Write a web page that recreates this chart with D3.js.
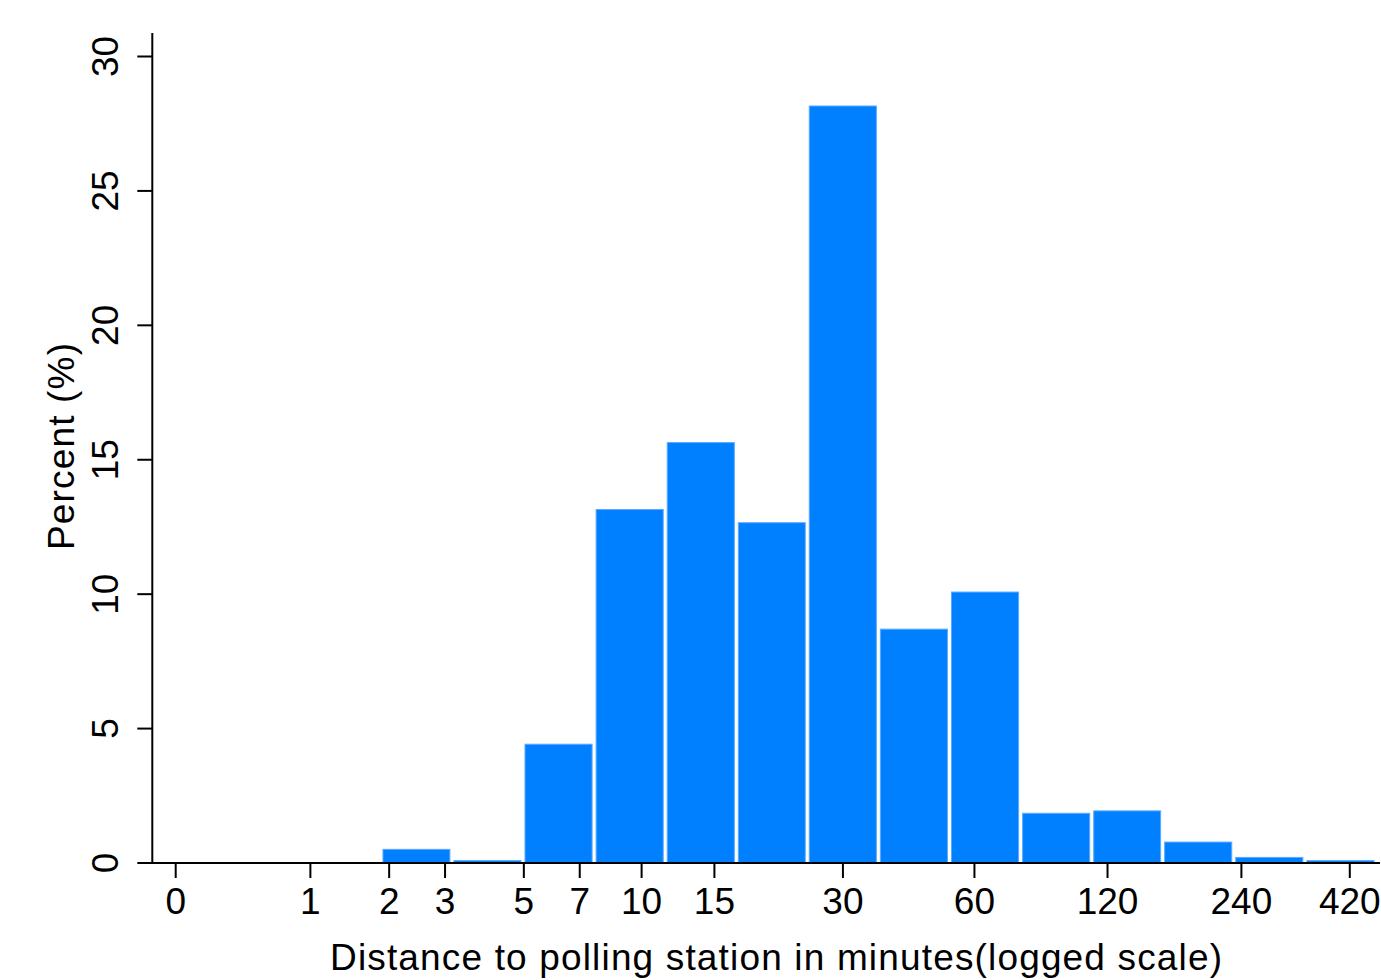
<!DOCTYPE html>
<html>
<head>
<meta charset="utf-8">
<script src="https://cdn.jsdelivr.net/npm/d3@7/dist/d3.min.js"></script>
<style>
  html, body { margin: 0; padding: 0; background: #fff; }
  svg { display: block; }
  text { font-family: "Liberation Sans", Arial, sans-serif; fill: #000; }
</style>
</head>
<body>
<svg id="chart" width="1381" height="980"></svg>
<script>
// Bin edges in ln(minutes + 1) units
const binEdges = [-0.039, 0.327, 0.693, 1.059, 1.424, 1.790, 2.156, 2.522, 2.888,
                  3.253, 3.619, 3.985, 4.351, 4.717, 5.082, 5.448, 5.814, 6.180];
// Percent per bin
const percents = [0, 0, 0, 0.49, 0.07, 4.40, 13.13, 15.62, 12.64, 28.14,
                  8.68, 10.06, 1.83, 1.92, 0.76, 0.19, 0.07];
// X tick labels in minutes
const xTickMinutes = [0, 1, 2, 3, 5, 7, 10, 15, 30, 60, 120, 240, 420];
// Y ticks
const yTicks = [0, 5, 10, 15, 20, 25, 30];

const xTitle = "Distance to polling station in minutes(logged scale)";
const yTitle = "Percent (%)";

const svg = d3.select("#chart");
const fontSize = 37;

const x = d3.scaleLinear()
  .domain([0, Math.log(421)])
  .range([175.2, 175.2 + 194.3 * Math.log(421)]);
const y = d3.scaleLinear().domain([0, 30]).range([862.5, 56]);

const bins = percents.map((v, i) => ({ x0: binEdges[i], x1: binEdges[i + 1], v }))
  .filter(d => d.v > 0);

svg.append("g").selectAll("rect").data(bins).enter().append("rect")
  .attr("x", d => x(d.x0) + 2)
  .attr("width", d => x(d.x1) - x(d.x0) - 4)
  .attr("y", d => y(d.v))
  .attr("height", d => y(0) - y(d.v))
  .attr("fill", "#0080ff")
  .attr("stroke", "#5aaaff")
  .attr("stroke-width", 1);

// X axis
const xAxis = d3.axisBottom(x)
  .tickValues(xTickMinutes.map(m => Math.log(m + 1)))
  .tickFormat((d, i) => xTickMinutes[i])
  .tickSize(15).tickPadding(10).tickSizeOuter(0);
const gx = svg.append("g").attr("transform", "translate(0,863)").call(xAxis);
gx.select(".domain").remove();
gx.append("line").attr("x1", 152.3).attr("x2", 1380).attr("y1", 0).attr("y2", 0)
  .attr("stroke", "#000").attr("stroke-width", 2);
gx.selectAll(".tick line").attr("stroke", "#000").attr("stroke-width", 2);
gx.selectAll(".tick text").attr("font-size", fontSize)
  .attr("font-family", "'Liberation Sans', Arial, sans-serif").attr("fill", "#000")
  .attr("dy", "0.71em");

// Y axis
const yAxis = d3.axisLeft(y).tickValues(yTicks).tickSize(15).tickPadding(0).tickSizeOuter(0);
const gy = svg.append("g").attr("transform", "translate(152.3,0)").call(yAxis);
gy.select(".domain").remove();
gy.append("line").attr("x1", 0).attr("x2", 0).attr("y1", 33).attr("y2", 864)
  .attr("stroke", "#000").attr("stroke-width", 2);
gy.selectAll(".tick line").attr("stroke", "#000").attr("stroke-width", 2);
gy.selectAll(".tick text")
  .attr("font-size", fontSize)
  .attr("font-family", "'Liberation Sans', Arial, sans-serif").attr("fill", "#000")
  .attr("x", null).attr("dy", null)
  .attr("text-anchor", "middle")
  .attr("transform", "translate(-34,0) rotate(-90)");

// Titles
svg.append("text").attr("x", 776).attr("y", 970)
  .attr("text-anchor", "middle").attr("font-size", fontSize)
  .attr("textLength", 892).attr("lengthAdjust", "spacing").text(xTitle);
svg.append("text").attr("transform", "translate(74,446.5) rotate(-90)")
  .attr("text-anchor", "middle").attr("font-size", fontSize)
  .attr("textLength", 207).attr("lengthAdjust", "spacing").text(yTitle);
</script>
</body>
</html>
